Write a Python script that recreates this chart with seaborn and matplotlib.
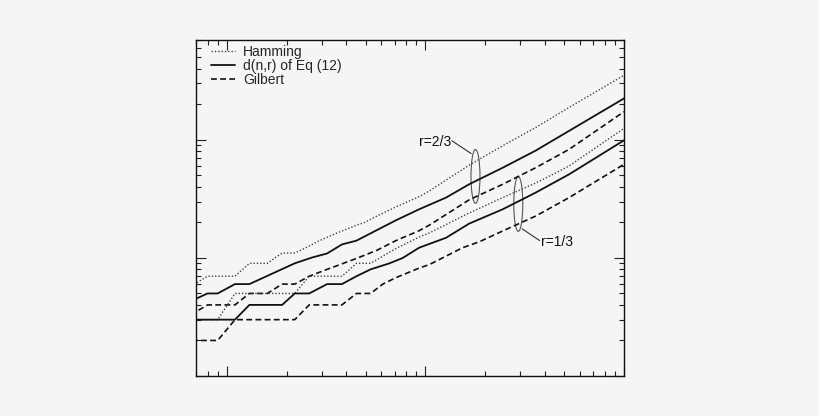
import numpy as np
import pandas as pd
import matplotlib
matplotlib.use('Agg')
import matplotlib.pyplot as plt
import seaborn as sns
from matplotlib.patches import Ellipse

# values (log-log, n vs distance)
ham_hi_n = [6, 8, 11, 13, 16, 19, 22, 26, 29, 33, 38, 46, 49, 57, 71, 93, 105, 166, 245, 359, 529, 1000]
ham_hi_d = [5.2, 7, 7, 9, 9, 11, 11, 12.6, 13.9, 15.3, 16.9, 19.2, 19.8, 22.6, 27, 33, 37, 61, 89, 127, 188, 352]

eq_hi_n = [6, 8, 9, 11, 13, 22, 27, 32, 38, 45, 57, 71, 93, 127, 166, 245, 359, 529, 1000]
eq_hi_d = [4, 5, 5, 6, 6, 9, 10.1, 10.9, 13, 14, 17.2, 20.8, 25.8, 32.4, 42, 58, 81, 119, 224]

gil_hi_n = [6, 8, 11, 13, 16, 19, 22, 26, 32, 38, 45, 57, 71, 93, 105, 166, 245, 359, 529, 1000]
gil_hi_d = [3, 4, 4, 5, 5, 6, 6, 7, 8, 8.9, 9.9, 11.6, 14, 17, 19, 31, 42, 58, 83, 173]

ham_lo_n = [6, 9, 11, 22, 26, 38, 45, 53, 71, 93, 105, 166, 245, 359, 529, 1000]
ham_lo_d = [3, 3, 5, 5, 7, 7, 9, 9, 12, 15, 16.3, 24, 32.4, 43, 60, 125]

eq_lo_n = [6, 11, 13, 19, 22, 26, 32, 38, 45, 53, 66, 77, 93, 127, 166, 245, 359, 529, 1000]
eq_lo_d = [3, 3, 4, 4, 5, 5, 6, 6, 7, 8, 9, 10, 12.2, 14.8, 19.5, 25.8, 35.7, 51, 99]

gil_lo_n = [6, 9, 11, 22, 26, 38, 45, 53, 61, 71, 93, 105, 154, 187, 245, 359, 529, 1000]
gil_lo_d = [2, 2, 3, 3, 4, 4, 5, 5, 6, 6.8, 8.2, 8.8, 12.2, 13.7, 16.9, 22.6, 32.4, 62]

sns.set_style('ticks')
plt.rcParams['font.family'] = ['Liberation Sans', 'DejaVu Sans']

bg = '#f5f5f5'
fig = plt.figure(figsize=(8.2, 4.16), dpi=100, facecolor=bg)
ax = fig.add_axes([196 / 820, 40 / 416, 428 / 820, 336 / 416])
ax.set_facecolor(bg)

dotted = (0, (1, 1.4))
dashed = (0, (3.5, 2))

def draw(n, d, ls, lw, color, label=None):
    df = pd.DataFrame({'n': n, 'd': d})
    sns.lineplot(data=df, x='n', y='d', ax=ax, sort=False, estimator=None,
                 color=color, linewidth=lw, linestyle=ls, label=label)

draw(ham_hi_n, ham_hi_d, dotted, 1.0, '#444444', 'Hamming')
draw(eq_hi_n, eq_hi_d, '-', 1.3, '#111111', 'd(n,r) of Eq (12)')
draw(gil_hi_n, gil_hi_d, dashed, 1.2, '#111111', 'Gilbert')
draw(ham_lo_n, ham_lo_d, dotted, 1.0, '#444444')
draw(eq_lo_n, eq_lo_d, '-', 1.3, '#111111')
draw(gil_lo_n, gil_lo_d, dashed, 1.2, '#111111')

ax.set_xscale('log')
ax.set_yscale('log')
ax.set_xlim(7, 1000)
ax.set_ylim(1, 700)
ax.set_xlabel('')
ax.set_ylabel('')

ax.tick_params(which='both', direction='in', top=True, right=True,
               labelbottom=False, labelleft=False, width=0.8, color='#222222')
ax.tick_params(which='major', length=7)
ax.tick_params(which='minor', length=3.5)
for sp in ax.spines.values():
    sp.set_linewidth(1.0)
    sp.set_color('#111111')

ax.legend(loc='upper left', bbox_to_anchor=(0.035, 0.985), frameon=False,
          fontsize=10, handlelength=1.7, handletextpad=0.6, labelspacing=0.0,
          borderpad=0, borderaxespad=0)

# rate annotations with ellipses
ax.add_patch(Ellipse((0.653, 0.594), 0.021, 0.16, transform=ax.transAxes,
                     fill=False, edgecolor='#555555', linewidth=0.8))
ax.add_patch(Ellipse((0.753, 0.512), 0.021, 0.163, transform=ax.transAxes,
                     fill=False, edgecolor='#555555', linewidth=0.8))
ax.plot([0.598, 0.643], [0.700, 0.662], transform=ax.transAxes,
        color='#333333', linewidth=0.8)
ax.plot([0.803, 0.762], [0.403, 0.438], transform=ax.transAxes,
        color='#333333', linewidth=0.8)
ax.text(0.596, 0.697, 'r=2/3', transform=ax.transAxes, ha='right', va='center',
        fontsize=10, color='#111111')
ax.text(0.805, 0.400, 'r=1/3', transform=ax.transAxes, ha='left', va='center',
        fontsize=10, color='#111111')

fig.savefig('out.png', dpi=100, facecolor=bg)
